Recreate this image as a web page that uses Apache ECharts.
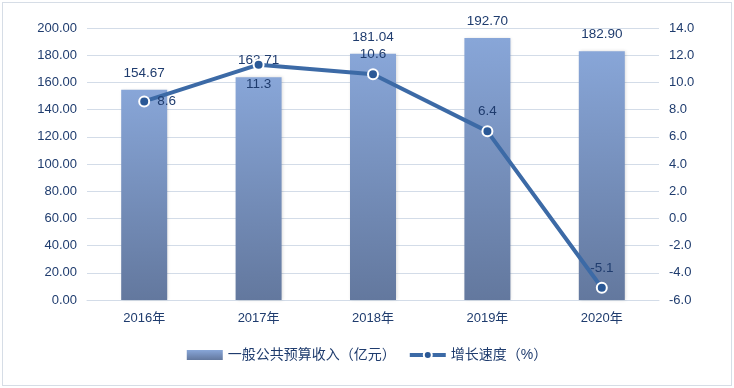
<!DOCTYPE html>
<html><head><meta charset="utf-8">
<script src="https://cdn.jsdelivr.net/npm/echarts@6/dist/echarts.min.js"></script>
<style>html,body{margin:0;padding:0;background:#fff}#c{position:absolute;left:2px;top:2px;width:728px;height:382px;border:1px solid #d6dde6}</style>
</head><body><div id="c"></div>
<script>
const categories = ['2016年','2017年','2018年','2019年','2020年'];
const revenue = [154.67, 163.71, 181.04, 192.70, 182.90];
const growth = [8.6, 11.3, 10.6, 6.4, -5.1];
const growthLabelPos = ['right','bottom','top','top','top'];
const seriesNames = ['一般公共预算收入（亿元）','增长速度（%）'];

const chart = echarts.init(document.getElementById('c'));
const txt = '#1f3c6e';
const font = '"Liberation Sans","Noto Sans CJK SC",sans-serif';
chart.setOption({
  animation:false,
  textStyle:{fontFamily:font},
  grid:{left:84,right:72,top:25,bottom:85},
  legend:{bottom:18,left:'center',itemGap:12,itemWidth:36,itemHeight:10,
    textStyle:{color:txt,fontSize:14,fontFamily:font},
    data:[{name:seriesNames[0],icon:'rect'},
          {name:seriesNames[1],lineStyle:{width:4}}]},
  xAxis:{type:'category',data:categories,axisTick:{show:false},
    axisLine:{lineStyle:{color:'#d3dce8'}},
    axisLabel:{color:txt,fontSize:13,margin:12}},
  yAxis:[
    {type:'value',min:0,max:200,interval:20,
     axisLabel:{color:txt,fontSize:13,margin:10,formatter:v=>v.toFixed(2)},
     splitLine:{lineStyle:{color:'#d3dce8'}},axisLine:{show:false},axisTick:{show:false}},
    {type:'value',min:-6,max:14,interval:2,
     axisLabel:{color:txt,fontSize:13,margin:10,formatter:v=>v.toFixed(1)},
     splitLine:{show:false},axisLine:{show:false},axisTick:{show:false}}
  ],
  series:[
    {name:seriesNames[0],type:'bar',data:revenue,barWidth:46,
     itemStyle:{color:new echarts.graphic.LinearGradient(0,0,0,1,[{offset:0,color:'#88a6d8'},{offset:1,color:'#63789e'}]),
       shadowColor:'rgba(0,0,0,0.15)',shadowBlur:3,shadowOffsetX:1},
     label:{show:true,position:'top',distance:10,color:txt,fontSize:13.5,formatter:p=>p.value.toFixed(2)}},
    {name:seriesNames[1],type:'line',yAxisIndex:1,
     data:growth.map((v,i)=>({value:v,label:{position:growthLabelPos[i]}})),
     symbol:'circle',symbolSize:10,
     lineStyle:{color:'#3c6aa6',width:4},
     itemStyle:{color:'#2a5896',borderColor:'#ffffff',borderWidth:2},
     label:{show:true,color:txt,fontSize:13.5,distance:7,formatter:p=>p.value.toFixed(1)}}
  ]
});
</script></body></html>
